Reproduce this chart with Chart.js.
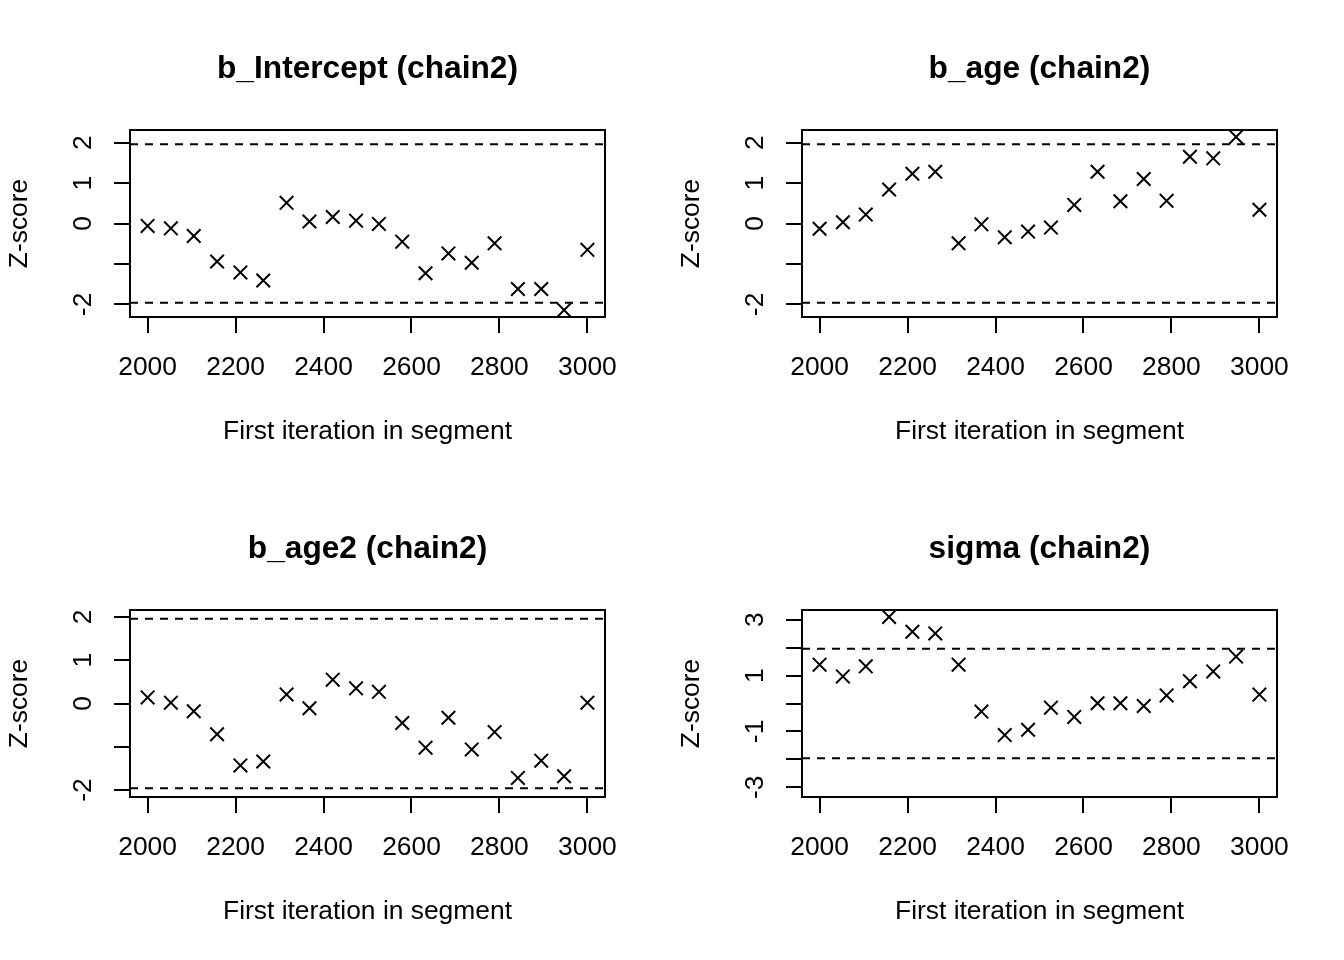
<!DOCTYPE html>
<html><head><meta charset="utf-8">
<script src="https://cdn.jsdelivr.net/npm/chart.js@4.4.1/dist/chart.umd.min.js"></script>
<style>
html,body{margin:0;padding:0;background:#fff;}
#wrap{position:relative;width:1344px;height:960px;background:#fff;}
#wrap canvas{position:absolute;}
</style></head><body>
<div id="wrap">
<canvas id="c0" width="672" height="480" style="left:0px;top:0px"></canvas>
<canvas id="c1" width="672" height="480" style="left:672px;top:0px"></canvas>
<canvas id="c2" width="672" height="480" style="left:0px;top:480px"></canvas>
<canvas id="c3" width="672" height="480" style="left:672px;top:480px"></canvas>
</div>
<script>
// ---- data ----
const iterations = [2000, 2053, 2105, 2158, 2211, 2263, 2316, 2368, 2421, 2474, 2526, 2579, 2632, 2684, 2737, 2789, 2842, 2895, 2947, 3000];
const zIntercept = [-0.06, -0.12, -0.31, -0.94, -1.21, -1.41, 0.51, 0.05, 0.16, 0.07, -0.01, -0.45, -1.23, -0.74, -0.97, -0.49, -1.62, -1.62, -2.14, -0.65];
const zAge       = [-0.13, 0.03, 0.22, 0.84, 1.23, 1.28, -0.49, -0.02, -0.34, -0.20, -0.10, 0.46, 1.28, 0.55, 1.10, 0.56, 1.65, 1.61, 2.14, 0.34];
const zAge2      = [0.14, 0.02, -0.18, -0.71, -1.43, -1.34, 0.21, -0.11, 0.55, 0.35, 0.27, -0.45, -1.02, -0.33, -1.06, -0.66, -1.72, -1.32, -1.68, 0.02];
const zSigma     = [1.39, 0.97, 1.33, 3.10, 2.57, 2.51, 1.39, -0.29, -1.13, -0.94, -0.15, -0.48, 0.01, 0.01, -0.09, 0.29, 0.80, 1.15, 1.68, 0.32];
const panelTitles = ['b_Intercept (chain2)', 'b_age (chain2)', 'b_age2 (chain2)', 'sigma (chain2)'];
const xTicks = [2000, 2200, 2400, 2600, 2800, 3000];
const yTicksA = [-2, -1, 0, 1, 2];
const yLabelsA = ['-2', '', '0', '1', '2'];
const yTicksB = [-3, -2, -1, 0, 1, 2, 3];
const yLabelsB = ['-3', '', '-1', '', '1', '', '3'];
const zThreshold = 1.96;
const xLabel = 'First iteration in segment';
const yLabel = 'Z-score';

const FONT = '"Liberation Sans", Arial, Helvetica, sans-serif';
const BASE = 26.4;

const panels = [
  {id: 'c0', title: panelTitles[0], z: zIntercept, yTicks: yTicksA, yLabels: yLabelsA},
  {id: 'c1', title: panelTitles[1], z: zAge, yTicks: yTicksA, yLabels: yLabelsA},
  {id: 'c2', title: panelTitles[2], z: zAge2, yTicks: yTicksA, yLabels: yLabelsA},
  {id: 'c3', title: panelTitles[3], z: zSigma, yTicks: yTicksB, yLabels: yLabelsB}
];

const framePlugin = {
  id: 'frame',
  afterDraw(chart) {
    const ctx = chart.ctx;
    const a = chart.chartArea;
    const p = chart.options.plugins.frame;
    ctx.save();
    // box
    ctx.strokeStyle = '#000';
    ctx.lineWidth = 2;
    ctx.strokeRect(a.left, a.top, a.right - a.left, a.bottom - a.top);
    // title
    ctx.fillStyle = '#000';
    ctx.font = 'bold ' + (BASE * 1.2) + 'px ' + FONT;
    ctx.textAlign = 'center';
    ctx.textBaseline = 'alphabetic';
    ctx.fillText(p.title, (a.left + a.right) / 2, 78);
    // rotated y tick labels
    const ys = chart.scales.y;
    ctx.font = BASE + 'px ' + FONT;
    p.yTicks.forEach((v, i) => {
      const lab = p.yLabels[i];
      if (!lab) return;
      const py = ys.getPixelForValue(v);
      ctx.save();
      ctx.translate(91, py);
      ctx.rotate(-Math.PI / 2);
      ctx.fillText(lab, 0, 0);
      ctx.restore();
    });
    ctx.restore();
  }
};

function makeChart(p) {
  const xMin = xTicks[0] - 0.04 * (xTicks[xTicks.length - 1] - xTicks[0]);
  const xMax = xTicks[xTicks.length - 1] + 0.04 * (xTicks[xTicks.length - 1] - xTicks[0]);
  const lim = Math.max(2, ...p.z.map(Math.abs)) * 1.08;
  const pts = iterations.map((x, i) => ({x: x, y: p.z[i]}));
  const dashSet = (yv) => ({
    type: 'line',
    data: [{x: xMin, y: yv}, {x: xMax, y: yv}],
    borderColor: '#000', borderWidth: 2, borderDash: [8, 7],
    pointRadius: 0, pointHoverRadius: 0, fill: false, tension: 0
  });
  const gridOpts = {display: true, drawOnChartArea: false, drawTicks: true, tickLength: 16, color: '#000', lineWidth: 2};
  new Chart(document.getElementById(p.id), {
    type: 'scatter',
    data: {datasets: [
      {data: pts, pointStyle: 'crossRot', pointRadius: 9.6, pointHoverRadius: 9.6,
       pointBorderWidth: 2, pointHoverBorderWidth: 2, borderColor: '#000', backgroundColor: 'rgba(0,0,0,0)', showLine: false},
      dashSet(zThreshold),
      dashSet(-zThreshold)
    ]},
    options: {
      responsive: false, animation: false, devicePixelRatio: 1, events: [],
      layout: {padding: {left: 0, right: 67, top: 130, bottom: 0}},
      plugins: {legend: {display: false}, tooltip: {enabled: false}, title: {display: false},
                frame: {title: p.title, yTicks: p.yTicks, yLabels: p.yLabels}},
      scales: {
        x: {
          type: 'linear', min: xMin, max: xMax,
          afterBuildTicks: s => { s.ticks = xTicks.map(v => ({value: v})); },
          afterFit: s => { s.height = 163; },
          grid: gridOpts, border: {display: false},
          ticks: {color: '#000', font: {family: FONT, size: BASE}, padding: 19, maxRotation: 0, minRotation: 0, autoSkip: false, callback: v => String(v)},
          title: {display: true, text: xLabel, color: '#000', font: {family: FONT, size: BASE}, padding: {top: 0, bottom: 32}}
        },
        y: {
          type: 'linear', min: -lim, max: lim,
          afterBuildTicks: s => { s.ticks = p.yTicks.map(v => ({value: v})); },
          afterFit: s => { s.width = 130; },
          grid: gridOpts, border: {display: false},
          ticks: {display: false},
          title: {display: true, text: yLabel, color: '#000', font: {family: FONT, size: BASE}, padding: {top: 4, bottom: 0}}
        }
      }
    },
    plugins: [framePlugin]
  });
}

panels.forEach(makeChart);
</script>
</body></html>
